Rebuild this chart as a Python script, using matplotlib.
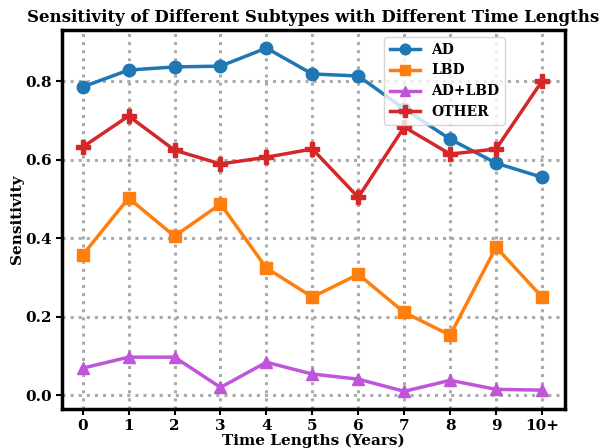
import matplotlib
matplotlib.use("Agg")
import matplotlib.pyplot as plt

plt.rcParams['font.family'] = 'DejaVu Serif'
plt.rcParams['font.weight'] = 'bold'

labels = ['0', '1', '2', '3', '4', '5', '6', '7', '8', '9', '10+']
ad = [0.785, 0.828, 0.836, 0.838, 0.884, 0.818, 0.813, 0.729, 0.652, 0.591, 0.555]
lbd = [0.357, 0.502, 0.405, 0.487, 0.324, 0.25, 0.308, 0.211, 0.153, 0.377, 0.25]
ad_lbd = [0.069, 0.097, 0.097, 0.02, 0.084, 0.054, 0.041, 0.01, 0.038, 0.015, 0.013]
other = [0.632, 0.711, 0.624, 0.589, 0.606, 0.627, 0.504, 0.683, 0.614, 0.627, 0.80]

x = list(range(len(labels)))

fig = plt.figure(figsize=(6.03, 4.48), dpi=100)
ax = fig.add_axes([62/603, 39/448, 503/603, 379/448])

ax.plot(x, ad, marker='o', color='#1f77b4', lw=2.5, ms=9, label='AD')
ax.plot(x, lbd, marker='s', color='#ff7f0e', lw=2.5, ms=9, label='LBD')
ax.plot(x, ad_lbd, marker='^', color='#bf55d9', lw=2.5, ms=9, label='AD+LBD')
ax.plot(x, other, marker='P', color='#d62728', lw=2.5, ms=10, label='OTHER')

ax.set_xticks(x)
ax.set_xticklabels(labels)
ax.set_yticks([0.0, 0.2, 0.4, 0.6, 0.8])
ax.set_xlim(-0.45, 10.5)
ax.set_ylim(-0.035, 0.93)
ax.grid(True, linestyle=':', color='#aaaaaa', lw=2.2)
for s in ax.spines.values():
    s.set_linewidth(2.5)
ax.tick_params(labelsize=11, width=1.5, length=4)

ax.set_title('Sensitivity of Different Subtypes with Different Time Lengths',
             fontsize=12, fontweight='bold', pad=6)
ax.set_xlabel('Time Lengths (Years)', fontsize=11, fontweight='bold', labelpad=0)
ax.set_ylabel('Sensitivity', fontsize=11, fontweight='bold', labelpad=1)

ax.legend(loc='upper right', bbox_to_anchor=(0.895, 1.0), markerscale=0.85,
          handlelength=2.2, prop={'weight': 'bold', 'size': 10})

fig.savefig('out.png', dpi=100)
